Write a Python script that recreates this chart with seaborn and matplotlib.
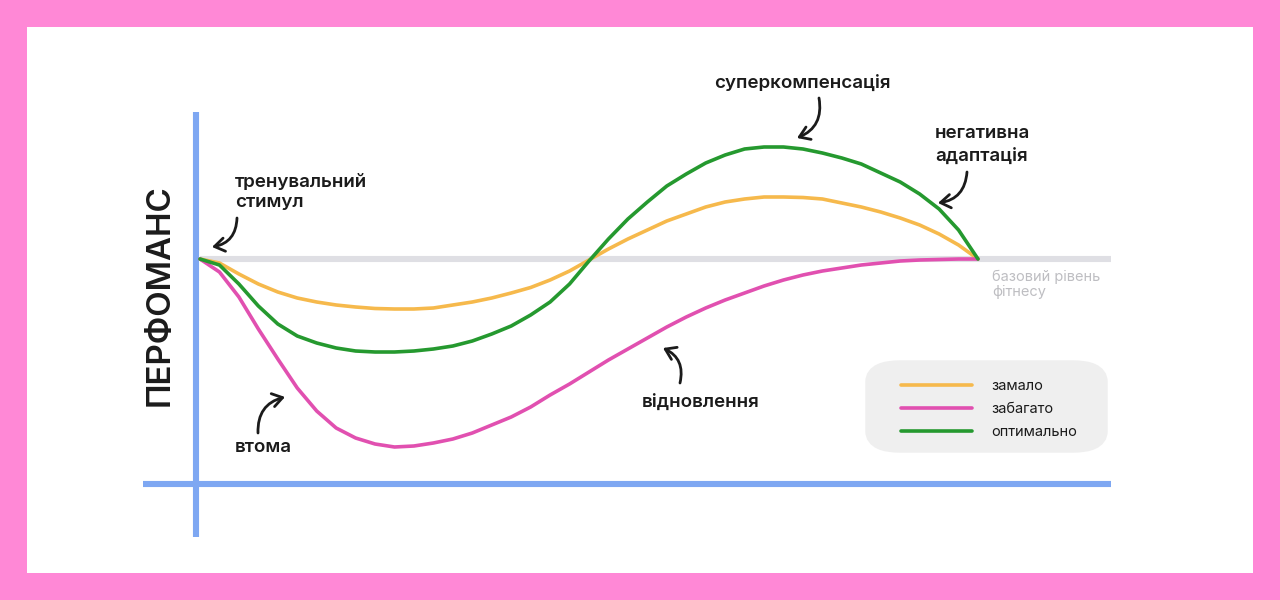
import matplotlib
matplotlib.use("Agg")
import matplotlib.pyplot as plt
from matplotlib.patches import Rectangle, FancyBboxPatch
from matplotlib.lines import Line2D
import seaborn as sns
import pandas as pd

# ---------------- data (time steps 0..40, performance relative to baseline) ----------------
t_steps = list(range(41))

v_low = [0, -0.4, -1.5, -2.5, -3.3, -3.9, -4.3, -4.6, -4.8, -4.95, -5.0, -5.0, -4.9, -4.6,
         -4.3, -3.9, -3.4, -2.85, -2.1, -1.2, -0.1, 1.0, 2.0, 2.9, 3.8, 4.5, 5.2, 5.7, 6.0,
         6.2, 6.2, 6.15, 6.0, 5.6, 5.2, 4.7, 4.1, 3.4, 2.5, 1.4, 0]

v_high = [0, -1.3, -3.8, -7.0, -10.0, -12.9, -15.2, -16.9, -17.9, -18.5, -18.8, -18.7, -18.4,
          -18.0, -17.4, -16.6, -15.8, -14.8, -13.6, -12.5, -11.3, -10.1, -9.0, -7.9, -6.8,
          -5.8, -4.9, -4.1, -3.4, -2.7, -2.1, -1.6, -1.2, -0.9, -0.6, -0.4, -0.2, -0.1,
          -0.05, 0, 0]

v_opt = [0, -0.6, -2.5, -4.7, -6.5, -7.7, -8.4, -8.9, -9.2, -9.3, -9.3, -9.2, -9.0, -8.7,
         -8.2, -7.5, -6.7, -5.6, -4.3, -2.5, -0.2, 2.0, 4.0, 5.7, 7.3, 8.5, 9.6, 10.4, 11.0,
         11.2, 11.2, 11.0, 10.6, 10.1, 9.5, 8.6, 7.7, 6.5, 5.0, 2.9, 0]

series_names = ["замало", "забагато", "оптимально"]
series_colors = ["#F6B94C", "#E150B0", "#25992F"]

y_label = "ПЕРФОМАНС"
baseline_label = ["базовий рівень", "фітнесу"]
annotations = {
    "stimulus": ["тренувальний", "стимул"],
    "super": ["суперкомпенсація"],
    "negative": ["негативна", "адаптація"],
    "fatigue": ["втома"],
    "recovery": ["відновлення"],
}

df = pd.concat([
    pd.DataFrame({"t": t_steps, "v": v_low, "series": series_names[0]}),
    pd.DataFrame({"t": t_steps, "v": v_high, "series": series_names[1]}),
    pd.DataFrame({"t": t_steps, "v": v_opt, "series": series_names[2]}),
], ignore_index=True)

# ---------------- figure ----------------
sns.set_theme(style="white")
plt.rcParams["font.family"] = ["Inter", "DejaVu Sans"]

W, H = 1280, 600
fig = plt.figure(figsize=(12.8, 6.0), dpi=100, facecolor="#FF88D6")

def fx(px):
    return px / W

def fy(py):
    return 1 - py / H

# white panel
fig.patches.append(Rectangle((fx(27), fy(573)), fx(1253) - fx(27), fy(27) - fy(573),
                             transform=fig.transFigure, facecolor="white", edgecolor="none",
                             zorder=-3))
# legend background
fig.patches.append(FancyBboxPatch((fx(875), fy(443)), fx(1098) - fx(875), fy(370) - fy(443),
                                  boxstyle="round,pad=0.0,rounding_size=0.02",
                                  transform=fig.transFigure, facecolor="#EFEFEF",
                                  edgecolor="#EFEFEF", lw=14, zorder=-2))

ax = fig.add_axes([0, 0, 1, 1])
ax.set_facecolor("none")
ax.patch.set_alpha(0)
X0, X1 = 200, 978     # pixel positions of first / last time step
Y0 = 259              # pixel position of the baseline
PX_T = (X1 - X0) / (len(t_steps) - 1)
PX_V = 10.0

axis_blue = "#7EA7F2"
# baseline
ax.plot([0, (1111 - X0) / PX_T], [0, 0], color="#DFDFE4", lw=4.4, solid_capstyle="butt", zorder=1)
# axes lines
ax.plot([(196 - X0) / PX_T] * 2, [(Y0 - 112) / PX_V, (Y0 - 537) / PX_V], color=axis_blue,
        lw=4.4, solid_capstyle="butt", zorder=1)
ax.plot([(143 - X0) / PX_T, (1111 - X0) / PX_T], [(Y0 - 484) / PX_V] * 2, color=axis_blue,
        lw=4.4, solid_capstyle="butt", zorder=1)

palette = dict(zip(series_names, series_colors))
sns.lineplot(data=df, x="t", y="v", hue="series", palette=palette, hue_order=series_names,
             ax=ax, legend=False, linewidth=2.6, sort=False, estimator=None,
             solid_capstyle="round", solid_joinstyle="round", zorder=3)

ax.set_xlim(-X0 / PX_T, (W - X0) / PX_T)
ax.set_ylim((Y0 - H) / PX_V, Y0 / PX_V)
ax.axis("off")

ink = "#1B1B1B"
fw = "semibold"

# y label
fig.text(fx(160), fy(295), y_label, rotation=90, ha="center", va="center",
         fontsize=23.8, color=ink, fontweight="semibold")

def lines(px, pys, texts, size=13.5, color=ink, weight=fw):
    for py, s in zip(pys, texts):
        fig.text(fx(px), fy(py), s, ha="left", va="center", fontsize=size,
                 color=color, fontweight=weight)

lines(235, [183, 202], annotations["stimulus"])
lines(714, [83], annotations["super"])
lines(935, [133, 156], annotations["negative"])
lines(235, [448], annotations["fatigue"])
lines(642, [402], annotations["recovery"])
lines(992, [277, 292], baseline_label, size=10.5, color="#BEBEC2", weight="normal")

def arrow(tail, head, rad):
    ax.annotate("", xy=(fx(head[0]), fy(head[1])), xycoords="figure fraction",
                xytext=(fx(tail[0]), fy(tail[1])), textcoords="figure fraction",
                arrowprops=dict(arrowstyle="->,head_length=0.6,head_width=0.4",
                                connectionstyle=f"arc3,rad={rad}", lw=2.0, color=ink,
                                shrinkA=0, shrinkB=0, capstyle="round", joinstyle="round"))

arrow((237, 218), (212, 247), -0.4)
arrow((819, 98), (797, 138), -0.4)
arrow((967, 172), (938, 203), -0.4)
arrow((258, 433), (285, 397), -0.4)
arrow((680, 383), (663, 348), 0.4)

handles = [Line2D([0], [0], color=c, lw=2.6) for c in series_colors]
leg = ax.legend(handles, series_names, loc="upper left",
                bbox_to_anchor=(fx(901), fy(379)), bbox_transform=fig.transFigure,
                frameon=False, fontsize=10.5, handlelength=4.9, handletextpad=1.3,
                labelspacing=0.62, borderpad=0, borderaxespad=0)
for txt in leg.get_texts():
    txt.set_color(ink)

fig.savefig("out.png", dpi=100, facecolor=fig.get_facecolor())
